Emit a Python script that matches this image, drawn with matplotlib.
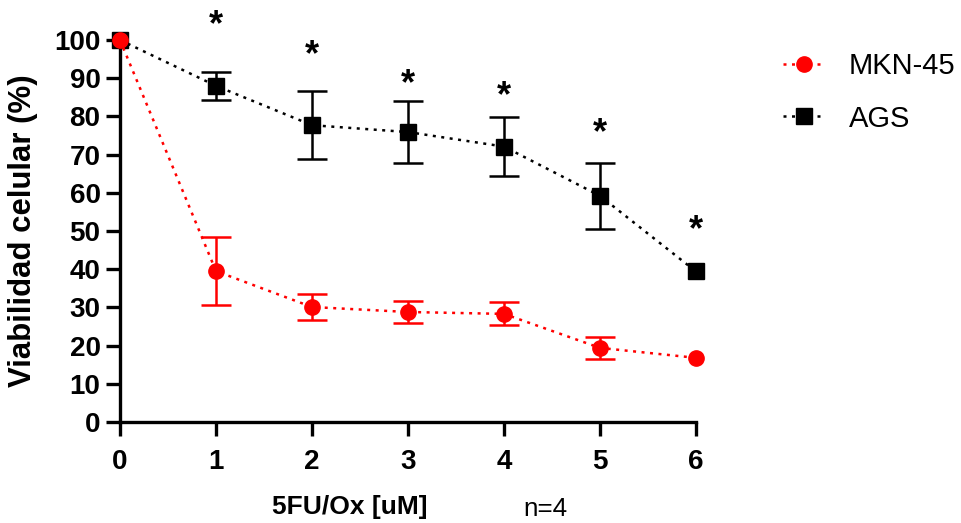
import matplotlib
matplotlib.use("Agg")
import matplotlib.pyplot as plt
from matplotlib.lines import Line2D

plt.rcParams['font.family'] = ['Liberation Sans', 'DejaVu Sans']

# data
dose = [0, 1, 2, 3, 4, 5, 6]
mkn45 = [100, 39.5, 30.1, 28.8, 28.3, 19.4, 16.8]
mkn45_err = [0, 9.0, 3.5, 2.8, 3.0, 2.8, 0]
ags = [100, 88.0, 77.7, 75.9, 72.1, 59.2, 39.4]
ags_err = [0, 3.7, 8.9, 8.1, 7.8, 8.7, 0]
star_x = [1, 2, 3, 4, 5, 6]
star_y = [105.5, 97.8, 90.3, 87.0, 77.3, 52.0]

RED = '#ff0000'
dots = (0, (1.2, 2.2))

fig = plt.figure(figsize=(9.62, 5.23), dpi=100)
ax = fig.add_axes([120/962, 1 - 422/523, 576/962, 382/523])

# error bars only where they show (points 1..5)
ax.errorbar(dose[1:6], ags[1:6], yerr=ags_err[1:6], fmt='none', ecolor='black',
            elinewidth=1.8, capsize=11, capthick=1.8, zorder=2)
ax.errorbar(dose[1:6], mkn45[1:6], yerr=mkn45_err[1:6], fmt='none', ecolor=RED,
            elinewidth=1.8, capsize=11, capthick=1.8, zorder=2)

ax.plot(dose, ags, color='black', linestyle=dots, linewidth=1.8, marker='s',
        markersize=11, clip_on=False, zorder=3)
ax.plot(dose, mkn45, color=RED, linestyle=dots, linewidth=1.8, marker='o',
        markersize=11, clip_on=False, zorder=4)

for x, y in zip(star_x, star_y):
    ax.annotate('*', (x, y), xytext=(0, -12), textcoords='offset points',
                ha='center', va='baseline', fontsize=26, fontweight='bold',
                annotation_clip=False)

ax.set_xlim(0, 6)
ax.set_ylim(0, 100)
ax.set_xticks(dose)
ax.set_yticks(range(0, 101, 10))
for s in ['top', 'right']:
    ax.spines[s].set_visible(False)
for s in ['left', 'bottom']:
    ax.spines[s].set_linewidth(2.4)
ax.tick_params(width=2.4, length=10, labelsize=20, pad=4)
ax.tick_params(axis='x', pad=9.5)
for lab in ax.get_xticklabels() + ax.get_yticklabels():
    lab.set_fontweight('bold')

ax.set_ylabel('Viabilidad celular (%)', fontsize=22.4, fontweight='bold')
ax.yaxis.set_label_coords(-0.142, 0.5)
ax.set_xlabel('5FU/Ox [uM]', fontsize=19, fontweight='bold')
ax.xaxis.set_label_coords(0.399, -0.19)
ax.text((545 - 120) / 576, -0.228, 'n=4', transform=ax.transAxes, fontsize=18.7,
        ha='center', va='center')

handles = [Line2D([], [], color=RED, linestyle=dots, linewidth=1.8, marker='o', markersize=11),
           Line2D([], [], color='black', linestyle=dots, linewidth=1.8, marker='s', markersize=11)]
fig.legend(handles, ['MKN-45', 'AGS'], loc='upper left', bbox_to_anchor=(0.814, 0.901),
           frameon=False, fontsize=21, handlelength=1.45, handletextpad=0.8,
           labelspacing=0.85, borderpad=0, borderaxespad=0)

fig.savefig('out.png', dpi=100)
